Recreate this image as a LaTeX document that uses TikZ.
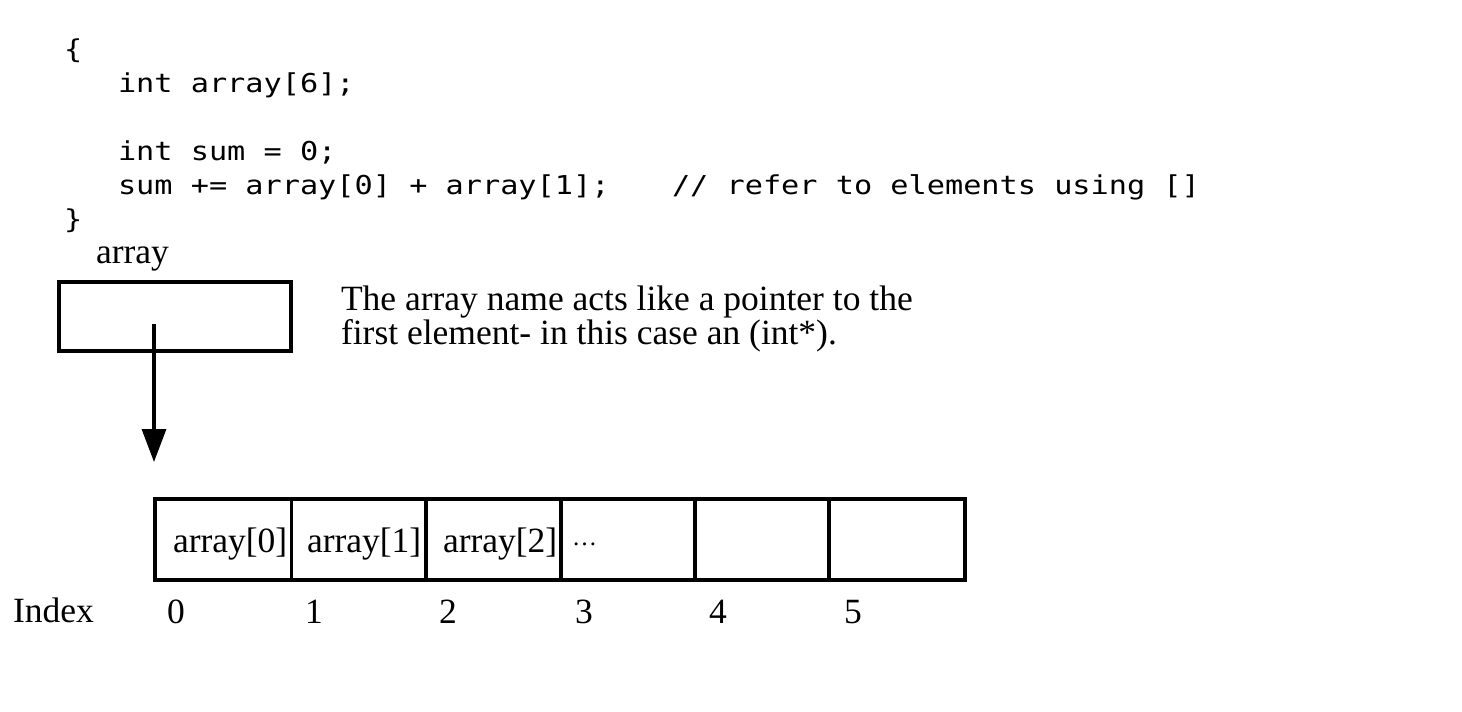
\documentclass[tikz,border=0pt]{standalone}
\usepackage{fontspec}
\usepackage{graphicx}
\setmainfont{Liberation Serif}
\newfontfamily\codefont{DejaVu Sans Mono}
\usetikzlibrary{arrows.meta}
\newcommand{\cw}[1]{\scalebox{1.163}[1]{#1}}
\tikzset{
  codetext/.style={anchor=base west, inner sep=0pt, outer sep=0pt, font=\codefont\fontsize{26}{26}\selectfont},
  serif/.style={anchor=base west, inner sep=0pt, outer sep=0pt, font=\fontsize{35.5}{35.5}\selectfont},
  cell/.style={draw, line width=3.5pt, anchor=north west, inner sep=0pt, outer sep=0pt, minimum height=80.5pt},
  ptrbox/.style={draw, line width=4pt, anchor=north west, inner sep=0pt, outer sep=0pt, minimum width=232pt, minimum height=69pt},
  ptrarrow/.style={line width=3.3pt, -{Triangle[length=33pt,width=24pt]}}
}
\begin{document}
\begin{tikzpicture}[x=1pt,y=-1pt]
\useasboundingbox[fill=white] (0,0) rectangle (1462,712);
% code
\node[codetext] (l1) at (64,58) {\cw{\{}};
\node[codetext] (l2) at (118,92) {\cw{int array[6];}};
\node[codetext] (l3) at (118,160) {\cw{int sum = 0;}};
\node[codetext] (l4) at (118,194) {\cw{sum += array[0] + array[1];}};
\node[codetext] (l4c) at (672,194) {\cw{// refer to elements using []}};
\node[codetext] (l5) at (64,228) {\cw{\}}};
% pointer
\node[serif] (lbl) at (96,263) {array};
\node[ptrbox] (ptr) at (59,282) {};
\node[serif] (t1) at (341,310) {The array name acts like a pointer to the};
\node[serif] (t2) at (341,344) {first element- in this case an (int*).};
\coordinate (src) at (154,324);
\coordinate (tip) at (154,462);
\draw[ptrarrow] (src) -- (tip);
% array cells
\node[cell, minimum width=136.5pt] (c0) at (155,499) {};
\node[cell, minimum width=134.5pt] (c1) at (291.5,499) {};
\node[cell, minimum width=135pt] (c2) at (426,499) {};
\node[cell, minimum width=134pt] (c3) at (561,499) {};
\node[cell, minimum width=134pt] (c4) at (695,499) {};
\node[cell, minimum width=136pt] (c5) at (829,499) {};
\draw[line width=4pt] (c0.north west) rectangle (c5.south east);
\node[serif] (e0) at (173,552) {array[0]};
\node[serif] (e1) at (307,552) {array[1]};
\node[serif] (e2) at (443,552) {array[2]};
\node[anchor=base west, inner sep=0pt, font=\fontsize{25}{25}\selectfont] (e3) at (572,545) {…};
% index
\node[serif] (idx) at (13,622) {Index};
\node[serif] (i0) at (167,623) {0};
\node[serif] (i1) at (305,623) {1};
\node[serif] (i2) at (439,623) {2};
\node[serif] (i3) at (575,623) {3};
\node[serif] (i4) at (709,623) {4};
\node[serif] (i5) at (844,623) {5};
\end{tikzpicture}
\end{document}
